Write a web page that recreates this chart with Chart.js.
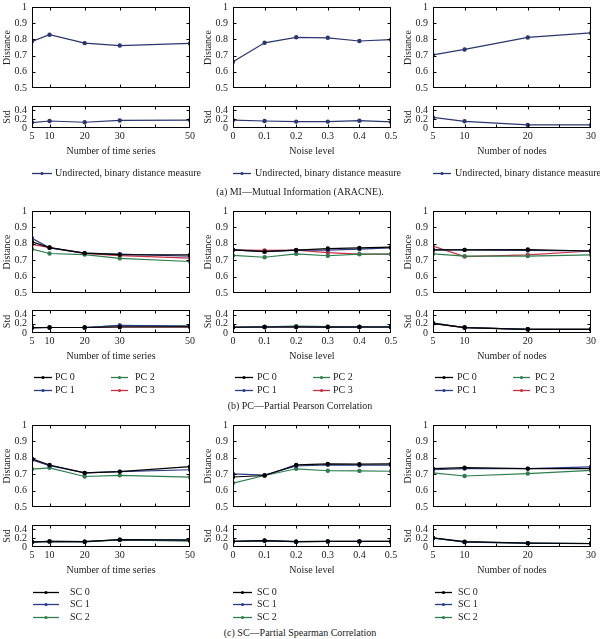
<!DOCTYPE html>
<html>
<head>
<meta charset="utf-8">
<script src="https://cdn.jsdelivr.net/npm/chart.js@4.4.1/dist/chart.umd.min.js"></script>
<style>
  body { margin: 0; background: #fff; }
  #fig { position: relative; width: 600px; height: 639px; overflow: hidden;
         font-family: 'Liberation Serif', 'DejaVu Serif', serif; font-size: 10px; color: #222; }
  .panel { position: absolute; }
  .leg { position: absolute; height: 12px; line-height: 12px; white-space: nowrap; }
  .leg svg { position: absolute; left: 0; top: 0; }
  .cap { position: absolute; left: 0; width: 600px; text-align: center; line-height: 12px; }
</style>
</head>
<body>
<div id="fig"></div>
<script>
// x values per column
const timeSeries = [5, 10, 20, 30, 50];
const noiseLevels = [0, 0.1, 0.2, 0.3, 0.4, 0.5];
const nodeCounts = [5, 10, 20, 30];

const timeTicks = [5, 10, 20, 30, 50];
const noiseTicks = [0, 0.1, 0.2, 0.3, 0.4, 0.5];
const nodeTicks = [5, 10, 20, 30];
const distTicks = [0.5, 0.6, 0.7, 0.8, 0.9, 1];
const stdTicks = [0, 0.2, 0.4];

// (a) MI
const miLabels = ["Undirected, binary distance measure"];
const miDistTime = [[0.788, 0.829, 0.777, 0.762, 0.775]];
const miStdTime = [[0.124, 0.159, 0.131, 0.172, 0.179]];
const miDistNoise = [[0.662, 0.779, 0.813, 0.81, 0.79, 0.798]];
const miStdNoise = [[0.179, 0.159, 0.145, 0.145, 0.166, 0.138]];
const miDistNodes = [[0.704, 0.738, 0.812, 0.84]];
const miStdNodes = [[0.241, 0.152, 0.069, 0.069]];

// (b) PC, one row per series: PC 0, PC 1, PC 2, PC 3
const pcLabels = ["PC 0", "PC 1", "PC 2", "PC 3"];
const pcDistTime = [
  [0.812, 0.777, 0.743, 0.734, 0.732],
  [0.834, 0.775, 0.743, 0.737, 0.724],
  [0.768, 0.741, 0.734, 0.711, 0.692],
  [0.796, 0.777, 0.741, 0.728, 0.713]
];
const pcStdTime = [
  [0.118, 0.12, 0.12, 0.13, 0.135],
  [0.118, 0.12, 0.12, 0.164, 0.15],
  [0.118, 0.12, 0.12, 0.16, 0.15],
  [0.118, 0.12, 0.12, 0.13, 0.135]
];
const pcDistNoise = [
  [0.763, 0.752, 0.761, 0.771, 0.775, 0.78],
  [0.763, 0.752, 0.761, 0.761, 0.767, 0.775],
  [0.729, 0.718, 0.739, 0.727, 0.737, 0.737],
  [0.763, 0.76, 0.762, 0.746, 0.737, 0.737]
];
const pcStdNoise = [
  [0.125, 0.13, 0.13, 0.128, 0.13, 0.13],
  [0.125, 0.13, 0.135, 0.13, 0.13, 0.13],
  [0.13, 0.135, 0.15, 0.14, 0.135, 0.135],
  [0.125, 0.13, 0.13, 0.13, 0.128, 0.13]
];
const pcDistNodes = [
  [0.763, 0.763, 0.765, 0.756],
  [0.763, 0.763, 0.76, 0.756],
  [0.739, 0.725, 0.725, 0.733],
  [0.786, 0.722, 0.733, 0.756]
];
const pcStdNodes = [
  [0.21, 0.118, 0.08, 0.08],
  [0.21, 0.12, 0.08, 0.08],
  [0.22, 0.12, 0.08, 0.078],
  [0.205, 0.115, 0.078, 0.08]
];

// (c) SC, one row per series: SC 0, SC 1, SC 2
const scLabels = ["SC 0", "SC 1", "SC 2"];
const scDistTime = [
  [0.794, 0.756, 0.708, 0.716, 0.746],
  [0.788, 0.752, 0.708, 0.716, 0.727],
  [0.731, 0.739, 0.686, 0.693, 0.682]
];
const scStdTime = [
  [0.113, 0.127, 0.12, 0.167, 0.155],
  [0.115, 0.127, 0.12, 0.165, 0.16],
  [0.113, 0.125, 0.118, 0.163, 0.135]
];
const scDistNoise = [
  [0.683, 0.692, 0.757, 0.763, 0.761, 0.763],
  [0.702, 0.694, 0.75, 0.757, 0.755, 0.755],
  [0.646, 0.692, 0.733, 0.721, 0.72, 0.718]
];
const scStdNoise = [
  [0.127, 0.147, 0.12, 0.127, 0.127, 0.127],
  [0.127, 0.145, 0.122, 0.127, 0.127, 0.127],
  [0.125, 0.14, 0.12, 0.125, 0.125, 0.125]
];
const scDistNodes = [
  [0.734, 0.74, 0.734, 0.734],
  [0.727, 0.734, 0.734, 0.745],
  [0.708, 0.689, 0.704, 0.723]
];
const scStdNodes = [
  [0.207, 0.12, 0.087, 0.08],
  [0.205, 0.11, 0.085, 0.078],
  [0.2, 0.115, 0.087, 0.08]
];

const miColors = ["#2b356f"];
const seriesColors = ["#000000", "#2b3a85", "#2e7d4f", "#c83245"];

const FONT = { family: "'Liberation Serif', 'DejaVu Serif', serif", size: 10 };
const TXT = "#222";
const YW = 34, PAD_T = 8, PAD_R = 10, PAD_B = 8, XH = 32;

const fig = document.getElementById("fig");

// box + inward tick marks like the matlab figure
const frame = {
  id: "frame",
  afterDraw(chart, args, opts) {
    const { ctx, chartArea: a, scales } = chart;
    const l = Math.round(a.left) + 0.5, r = Math.round(a.right) - 0.5;
    const t = Math.round(a.top) + 0.5, b = Math.round(a.bottom) - 0.5;
    ctx.save();
    ctx.strokeStyle = "#000";
    ctx.lineWidth = 1;
    ctx.strokeRect(l, t, r - l, b - t);
    ctx.beginPath();
    (opts.xMarks || []).forEach(v => {
      const px = Math.round(scales.x.getPixelForValue(v)) + 0.5;
      ctx.moveTo(px, t); ctx.lineTo(px, t + 3);
      ctx.moveTo(px, b); ctx.lineTo(px, b - 3);
    });
    (opts.yMarks || []).forEach(v => {
      const py = Math.round(scales.y.getPixelForValue(v)) + 0.5;
      ctx.moveTo(l, py); ctx.lineTo(l + 3, py);
      ctx.moveTo(r, py); ctx.lineTo(r - 3, py);
    });
    ctx.stroke();
    ctx.restore();
  }
};

function fmt(v) {
  return String(+(+v).toFixed(2));
}

function makePanel(p) {
  const showX = !!p.xTitle;
  const w = YW + p.w + PAD_R;
  const h = PAD_T + p.h + (showX ? XH : PAD_B);
  const div = document.createElement("div");
  div.className = "panel";
  div.style.left = (p.left - YW) + "px";
  div.style.top = (p.top - PAD_T) + "px";
  const canvas = document.createElement("canvas");
  canvas.width = w; canvas.height = h;
  canvas.style.width = w + "px"; canvas.style.height = h + "px";
  div.appendChild(canvas);
  fig.appendChild(div);

  const datasets = p.values.map((vals, i) => ({
    data: p.xs.map((x, j) => ({ x: x, y: vals[j] })),
    borderColor: p.colors[i],
    backgroundColor: p.colors[i],
    borderWidth: 1.2,
    pointRadius: 1.6,
    pointHoverRadius: 0
  }));

  return new Chart(canvas.getContext("2d"), {
    type: "line",
    data: { datasets },
    plugins: [frame],
    options: {
      responsive: false,
      animation: false,
      events: [],
      layout: { padding: { left: 0, top: PAD_T, right: PAD_R, bottom: showX ? 0 : PAD_B } },
      plugins: {
        legend: { display: false },
        tooltip: { enabled: false },
        frame: { xMarks: p.xMarks, yMarks: p.yMarks }
      },
      scales: {
        x: {
          type: "linear",
          min: p.xs[0],
          max: p.xs[p.xs.length - 1],
          display: showX,
          grid: { display: false, drawTicks: false },
          border: { display: false },
          afterBuildTicks: s => { s.ticks = p.xTicks.map(v => ({ value: v })); },
          afterFit: s => { s.height = showX ? XH : 0; },
          ticks: { padding: 2, font: FONT, color: TXT, maxRotation: 0, autoSkip: false, callback: fmt },
          title: { display: showX, text: p.xTitle || "", font: FONT, color: TXT, padding: { top: 0, bottom: 3 } }
        },
        y: {
          min: p.yMin,
          max: p.yMax,
          grid: { display: false, drawTicks: false },
          border: { display: false },
          afterBuildTicks: s => { s.ticks = p.yTicks.map(v => ({ value: v })); },
          afterFit: s => { s.width = YW; },
          ticks: { padding: 5, font: FONT, color: TXT, autoSkip: false, callback: fmt },
          title: { display: true, text: p.yTitle, font: FONT, color: TXT, padding: { top: 3, bottom: 0 } }
        }
      }
    }
  });
}

function legendItem(x, y, len, textX, color, label) {
  const d = document.createElement("div");
  d.className = "leg";
  d.style.left = x + "px";
  d.style.top = (y - 6) + "px";
  d.innerHTML =
    '<svg width="' + len + '" height="12"><line x1="0" y1="6.5" x2="' + len + '" y2="6.5" stroke="' + color +
    '" stroke-width="1.3"/><circle cx="' + (len / 2) + '" cy="6.5" r="1.6" fill="' + color + '"/></svg>' +
    '<span style="position:absolute;left:' + (textX - x) + 'px;top:0">' + label + "</span>";
  fig.appendChild(d);
}

function caption(y, text) {
  const d = document.createElement("div");
  d.className = "cap";
  d.style.top = (y - 6) + "px";
  d.textContent = text;
  fig.appendChild(d);
}

const colLeft = [32, 233, 433];
const W = 158;
const columns = [
  { xs: timeSeries, xTicks: timeTicks, xMarks: [10, 20, 30, 40], xTitle: "Number of time series" },
  { xs: noiseLevels, xTicks: noiseTicks, xMarks: [0.1, 0.2, 0.3, 0.4], xTitle: "Noise level" },
  { xs: nodeCounts, xTicks: nodeTicks, xMarks: [10, 15, 20, 25], xTitle: "Number of nodes" }
];

const rows = [
  { dT: 4, dH: 87, sT: 103, sH: 25, colors: miColors,
    dist: [miDistTime, miDistNoise, miDistNodes], std: [miStdTime, miStdNoise, miStdNodes] },
  { dT: 208, dH: 88, sT: 307, sH: 26, colors: seriesColors,
    dist: [pcDistTime, pcDistNoise, pcDistNodes], std: [pcStdTime, pcStdNoise, pcStdNodes] },
  { dT: 422, dH: 88, sT: 522, sH: 25, colors: seriesColors,
    dist: [scDistTime, scDistNoise, scDistNodes], std: [scStdTime, scStdNoise, scStdNodes] }
];

rows.forEach(row => {
  columns.forEach((col, c) => {
    makePanel({
      left: colLeft[c], top: row.dT, w: W, h: row.dH,
      xs: col.xs, xTicks: col.xTicks, xMarks: col.xMarks,
      values: row.dist[c], colors: row.colors,
      yMin: 0.5, yMax: 1, yTicks: distTicks, yMarks: [0.6, 0.7, 0.8, 0.9], yTitle: "Distance"
    });
    makePanel({
      left: colLeft[c], top: row.sT, w: W, h: row.sH,
      xs: col.xs, xTicks: col.xTicks, xMarks: col.xMarks,
      values: row.std[c], colors: row.colors,
      yMin: 0, yMax: 0.5, yTicks: stdTicks, yMarks: [0.2, 0.4], yTitle: "Std",
      xTitle: col.xTitle
    });
  });
});

// legends
[[32, 20, 55], [233, 18, 255], [433, 18, 455]].forEach(([x, len, tx]) => {
  legendItem(x, 173, len, tx, miColors[0], miLabels[0]);
});

[[34, 111, 55, 135], [235, 313, 257, 333], [435, 513, 457, 535]].forEach(([x1, x2, t1, t2]) => {
  legendItem(x1, 377, 18, t1, seriesColors[0], pcLabels[0]);
  legendItem(x1, 390, 18, t1, seriesColors[1], pcLabels[1]);
  legendItem(x2, 377, 17, t2, seriesColors[2], pcLabels[2]);
  legendItem(x2, 390, 17, t2, seriesColors[3], pcLabels[3]);
});

[[33, 26, 70], [233, 19, 257], [435, 17, 458]].forEach(([x, len, tx]) => {
  [592, 604, 617].forEach((y, i) => legendItem(x, y, len, tx, seriesColors[i], scLabels[i]));
});

caption(192, "(a) MI\u2014Mutual Information (ARACNE).");
caption(406, "(b) PC\u2014Partial Pearson Correlation");
caption(633, "(c) SC\u2014Partial Spearman Correlation");
</script>
</body>
</html>
